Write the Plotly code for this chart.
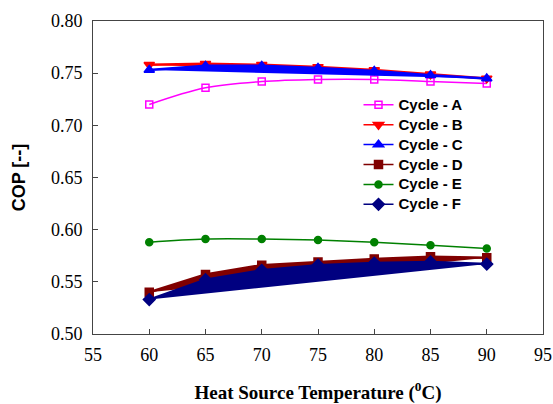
import plotly.graph_objects as go

temps = [60, 65, 70, 75, 80, 85, 90]
cycle_a = [0.720, 0.736, 0.742, 0.744, 0.744, 0.742, 0.740]
cycle_b = [0.758, 0.759, 0.758, 0.756, 0.753, 0.749, 0.745]
cycle_c = [0.753, 0.757, 0.757, 0.755, 0.752, 0.748, 0.745]
cycle_d = [0.540, 0.557, 0.566, 0.569, 0.572, 0.574, 0.573]
cycle_e = [0.588, 0.591, 0.591, 0.590, 0.588, 0.585, 0.582]
cycle_f = [0.533, 0.552, 0.561, 0.566, 0.568, 0.569, 0.567]

names = ["Cycle - A", "Cycle - B", "Cycle - C", "Cycle - D", "Cycle - E", "Cycle - F"]
series = [cycle_a, cycle_b, cycle_c, cycle_d, cycle_e, cycle_f]
colors = ["#FF00FF", "#FF0000", "#0000FF", "#800000", "#008000", "#000080"]
symbols = ["square-open", "triangle-down", "triangle-up", "square", "circle", "diamond"]
msizes = [7, 9, 9, 8, 7, 9]
filled = [False, True, True, True, False, True]

fig = go.Figure()
for n, ys, c, s, ms, f in zip(names, series, colors, symbols, msizes, filled):
    if f:
        fig.add_trace(go.Scatter(
            x=temps, y=ys, mode="lines+markers", fill="toself", fillcolor=c,
            line=dict(color=c, width=2.5),
            marker=dict(symbol=s, size=ms, color=c, line=dict(color=c, width=1.5)),
            showlegend=False, hoverinfo="skip"))
    else:
        fig.add_trace(go.Scatter(
            x=temps, y=ys, mode="lines+markers",
            line=dict(color=c, width=1.5, shape="spline"),
            marker=dict(symbol=s, size=ms, color=c, line=dict(color=c, width=1.5)),
            showlegend=False))

for n, c, s, ms in zip(names, colors, symbols, msizes):
    fig.add_trace(go.Scatter(
        x=[None], y=[None], mode="lines+markers",
        name='<span style="font-size:15px"><b>' + n + "</b></span>",
        line=dict(color=c, width=1.5),
        marker=dict(symbol=s, size=ms, color=c, line=dict(color=c, width=1.5))))

serif = "Liberation Serif"
sans = "Liberation Sans"
tickf = dict(family=serif, size=18, color="#000")
fig.update_layout(
    template="none",
    font=dict(family=serif, size=18, color="#000"),
    width=553, height=404,
    margin=dict(l=93, r=10, t=21, b=70, autoexpand=False),
    plot_bgcolor="white", paper_bgcolor="white",
    xaxis=dict(range=[55, 95], dtick=5, tick0=55, showgrid=False, zeroline=False,
               showline=True, linecolor="#444", linewidth=1, mirror=True, automargin=True,
               ticks="inside", ticklen=5, tickcolor="#444", tickfont=tickf,
               ticklabelstandoff=4,
               title=dict(text="<b>Heat Source Temperature (<sup>0</sup>C)</b>",
                          font=dict(family=serif, size=19, color="#000"),
                          standoff=22)),
    yaxis=dict(range=[0.50, 0.80], dtick=0.05, tickformat=".2f", showgrid=False, zeroline=False,
               showline=True, linecolor="#444", linewidth=1, mirror=True, automargin=True,
               ticks="inside", ticklen=5, tickcolor="#444", tickfont=tickf,
               ticklabelstandoff=6,
               title=dict(text="<b>COP [--]</b>",
                          font=dict(family=sans, size=18, color="#000"),
                          standoff=20)),
    legend=dict(x=0.590, y=0.78, xanchor="left", yanchor="top",
                bgcolor="rgba(0,0,0,0)",
                font=dict(family=sans, size=13, color="#000"),
                tracegroupgap=0, itemwidth=30),
)
fig.write_html("out.html")
